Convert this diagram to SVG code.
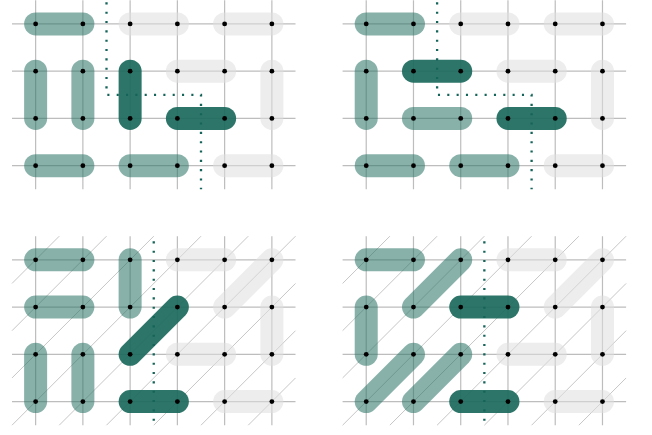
<svg xmlns="http://www.w3.org/2000/svg" xmlns:xlink="http://www.w3.org/1999/xlink" width="652" height="435" viewBox="0 0 652 435">
<style>
.grid{stroke:#bdbdbd;stroke-width:1.2;fill:none}
.diag{stroke:#b8b8b8;stroke-width:0.8;fill:none}
.pill{stroke-width:23;stroke-linecap:round;fill:none}
.lt{stroke:#2a7466;stroke-opacity:0.56}
.dk{stroke:#1b695b;stroke-opacity:0.92}
.gy{stroke:#dedede;stroke-opacity:0.55}
.node{fill:#000}
.cut{stroke:#15645a;stroke-width:2.3;stroke-dasharray:2.1 7.233;fill:none}
</style>
<defs>
<g id="grid">
<path class="grid" d="M0 23.625H283.5M0 70.875H283.5M0 118.125H283.5M0 165.375H283.5M23.625 0V189M70.875 0V189M118.125 0V189M165.375 0V189M212.625 0V189M259.875 0V189"/>
</g>
<g id="diag">
<path class="diag" d="M47.25 0L0 47.25M94.5 0L0 94.5M141.75 0L0 141.75M189 0L0 189M236.25 0L47.25 189M283.5 0L94.5 189M283.5 47.25L141.75 189M283.5 94.5L189 189M283.5 141.75L236.25 189"/>
</g>
<g id="nodes" class="node">
<circle cx="23.625" cy="23.625" r="2.4"/><circle cx="70.875" cy="23.625" r="2.4"/><circle cx="118.125" cy="23.625" r="2.4"/><circle cx="165.375" cy="23.625" r="2.4"/><circle cx="212.625" cy="23.625" r="2.4"/><circle cx="259.875" cy="23.625" r="2.4"/>
<circle cx="23.625" cy="70.875" r="2.4"/><circle cx="70.875" cy="70.875" r="2.4"/><circle cx="118.125" cy="70.875" r="2.4"/><circle cx="165.375" cy="70.875" r="2.4"/><circle cx="212.625" cy="70.875" r="2.4"/><circle cx="259.875" cy="70.875" r="2.4"/>
<circle cx="23.625" cy="118.125" r="2.4"/><circle cx="70.875" cy="118.125" r="2.4"/><circle cx="118.125" cy="118.125" r="2.4"/><circle cx="165.375" cy="118.125" r="2.4"/><circle cx="212.625" cy="118.125" r="2.4"/><circle cx="259.875" cy="118.125" r="2.4"/>
<circle cx="23.625" cy="165.375" r="2.4"/><circle cx="70.875" cy="165.375" r="2.4"/><circle cx="118.125" cy="165.375" r="2.4"/><circle cx="165.375" cy="165.375" r="2.4"/><circle cx="212.625" cy="165.375" r="2.4"/><circle cx="259.875" cy="165.375" r="2.4"/>
</g>
</defs>

<g id="panel1" transform="translate(12,0.3)">
<use xlink:href="#grid"/>
<g id="p1-pills">
<line class="pill lt" x1="23.625" y1="23.625" x2="70.875" y2="23.625"/>
<line class="pill gy" x1="118.125" y1="23.625" x2="165.375" y2="23.625"/>
<line class="pill gy" x1="212.625" y1="23.625" x2="259.875" y2="23.625"/>
<line class="pill lt" x1="23.625" y1="70.875" x2="23.625" y2="118.125"/>
<line class="pill lt" x1="70.875" y1="70.875" x2="70.875" y2="118.125"/>
<line class="pill dk" x1="118.125" y1="70.875" x2="118.125" y2="118.125"/>
<line class="pill gy" x1="165.375" y1="70.875" x2="212.625" y2="70.875"/>
<line class="pill gy" x1="259.875" y1="70.875" x2="259.875" y2="118.125"/>
<line class="pill dk" x1="165.375" y1="118.125" x2="212.625" y2="118.125"/>
<line class="pill lt" x1="23.625" y1="165.375" x2="70.875" y2="165.375"/>
<line class="pill lt" x1="118.125" y1="165.375" x2="165.375" y2="165.375"/>
<line class="pill gy" x1="212.625" y1="165.375" x2="259.875" y2="165.375"/>
</g>
<use xlink:href="#nodes"/>
<path class="cut" d="M94.5 2V94.5H189V189"/>
</g>

<g id="panel2" transform="translate(342.6,0.3)">
<use xlink:href="#grid"/>
<g id="p2-pills">
<line class="pill lt" x1="23.625" y1="23.625" x2="70.875" y2="23.625"/>
<line class="pill gy" x1="118.125" y1="23.625" x2="165.375" y2="23.625"/>
<line class="pill gy" x1="212.625" y1="23.625" x2="259.875" y2="23.625"/>
<line class="pill lt" x1="23.625" y1="70.875" x2="23.625" y2="118.125"/>
<line class="pill dk" x1="70.875" y1="70.875" x2="118.125" y2="70.875"/>
<line class="pill gy" x1="165.375" y1="70.875" x2="212.625" y2="70.875"/>
<line class="pill gy" x1="259.875" y1="70.875" x2="259.875" y2="118.125"/>
<line class="pill lt" x1="70.875" y1="118.125" x2="118.125" y2="118.125"/>
<line class="pill dk" x1="165.375" y1="118.125" x2="212.625" y2="118.125"/>
<line class="pill lt" x1="23.625" y1="165.375" x2="70.875" y2="165.375"/>
<line class="pill lt" x1="118.125" y1="165.375" x2="165.375" y2="165.375"/>
<line class="pill gy" x1="212.625" y1="165.375" x2="259.875" y2="165.375"/>
</g>
<use xlink:href="#nodes"/>
<path class="cut" d="M94.5 2V94.5H189V189"/>
</g>

<g id="panel3" transform="translate(12,236.2)">
<use xlink:href="#grid"/>
<use xlink:href="#diag"/>
<g id="p3-pills">
<line class="pill lt" x1="23.625" y1="23.625" x2="70.875" y2="23.625"/>
<line class="pill lt" x1="118.125" y1="23.625" x2="118.125" y2="70.875"/>
<line class="pill gy" x1="165.375" y1="23.625" x2="212.625" y2="23.625"/>
<line class="pill gy" x1="212.625" y1="70.875" x2="259.875" y2="23.625"/>
<line class="pill lt" x1="23.625" y1="70.875" x2="70.875" y2="70.875"/>
<line class="pill gy" x1="259.875" y1="70.875" x2="259.875" y2="118.125"/>
<line class="pill dk" x1="118.125" y1="118.125" x2="165.375" y2="70.875"/>
<line class="pill gy" x1="165.375" y1="118.125" x2="212.625" y2="118.125"/>
<line class="pill lt" x1="23.625" y1="118.125" x2="23.625" y2="165.375"/>
<line class="pill lt" x1="70.875" y1="118.125" x2="70.875" y2="165.375"/>
<line class="pill dk" x1="118.125" y1="165.375" x2="165.375" y2="165.375"/>
<line class="pill gy" x1="212.625" y1="165.375" x2="259.875" y2="165.375"/>
</g>
<use xlink:href="#nodes"/>
<path class="cut" d="M141.75 5.1V184.8"/>
</g>

<g id="panel4" transform="translate(342.6,236.2)">
<use xlink:href="#grid"/>
<use xlink:href="#diag"/>
<g id="p4-pills">
<line class="pill lt" x1="23.625" y1="23.625" x2="70.875" y2="23.625"/>
<line class="pill lt" x1="70.875" y1="70.875" x2="118.125" y2="23.625"/>
<line class="pill gy" x1="165.375" y1="23.625" x2="212.625" y2="23.625"/>
<line class="pill gy" x1="212.625" y1="70.875" x2="259.875" y2="23.625"/>
<line class="pill lt" x1="23.625" y1="70.875" x2="23.625" y2="118.125"/>
<line class="pill dk" x1="118.125" y1="70.875" x2="165.375" y2="70.875"/>
<line class="pill gy" x1="259.875" y1="70.875" x2="259.875" y2="118.125"/>
<line class="pill lt" x1="23.625" y1="165.375" x2="70.875" y2="118.125"/>
<line class="pill lt" x1="70.875" y1="165.375" x2="118.125" y2="118.125"/>
<line class="pill gy" x1="165.375" y1="118.125" x2="212.625" y2="118.125"/>
<line class="pill dk" x1="118.125" y1="165.375" x2="165.375" y2="165.375"/>
<line class="pill gy" x1="212.625" y1="165.375" x2="259.875" y2="165.375"/>
</g>
<use xlink:href="#nodes"/>
<path class="cut" d="M141.75 5.1V184.8"/>
</g>
</svg>
